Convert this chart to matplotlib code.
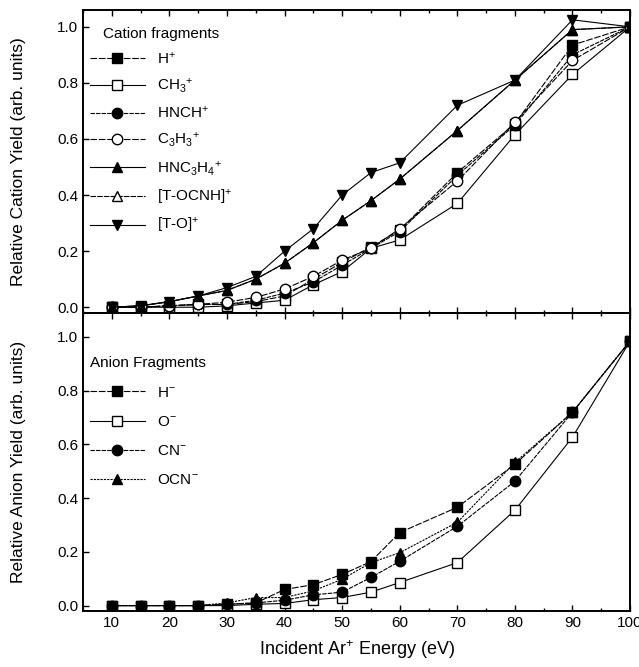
import matplotlib.pyplot as plt
from matplotlib.ticker import MultipleLocator

plt.rcParams['font.family'] = ['Liberation Sans', 'DejaVu Sans']
plt.rcParams['mathtext.fontset'] = 'custom'
plt.rcParams['mathtext.rm'] = 'Liberation Sans'
plt.rcParams['mathtext.it'] = 'Liberation Sans'

energy = [10, 15, 20, 25, 30, 35, 40, 45, 50, 55, 60, 70, 80, 90, 100]

# cation fragments
h_plus = [0.0, 0.0, 0.005, 0.01, 0.01, 0.02, 0.04, 0.10, 0.16, 0.215, 0.275, 0.48, 0.655, 0.935, 1.0]
ch3_plus = [0.0, 0.0, 0.0, 0.0, 0.005, 0.015, 0.025, 0.08, 0.127, 0.21, 0.24, 0.37, 0.615, 0.83, 1.0]
hnch_plus = [0.0, 0.0, 0.005, 0.01, 0.01, 0.025, 0.05, 0.09, 0.15, 0.21, 0.27, 0.47, 0.65, 0.90, 1.0]
c3h3_plus = [0.0, 0.0, 0.005, 0.01, 0.018, 0.035, 0.065, 0.11, 0.168, 0.21, 0.28, 0.45, 0.66, 0.88, 1.0]
hnc3h4_plus = [0.0, 0.005, 0.02, 0.04, 0.06, 0.10, 0.157, 0.23, 0.31, 0.38, 0.457, 0.63, 0.81, 0.99, 1.0]
tocnh_plus = [0.0, 0.005, 0.02, 0.04, 0.06, 0.10, 0.157, 0.23, 0.31, 0.38, 0.457, 0.63, 0.81, 0.99, 1.0]
to_plus = [0.0, 0.005, 0.02, 0.04, 0.07, 0.11, 0.20, 0.28, 0.40, 0.48, 0.515, 0.72, 0.81, 1.025, 1.0]

# anion fragments
h_minus = [0.0, 0.0, 0.0, 0.0, 0.005, 0.01, 0.06, 0.078, 0.116, 0.164, 0.272, 0.366, 0.526, 0.72, 0.985]
o_minus = [0.0, 0.0, 0.0, 0.0, 0.0, 0.005, 0.008, 0.022, 0.03, 0.05, 0.086, 0.16, 0.355, 0.627, 0.985]
cn_minus = [0.0, 0.0, 0.0, 0.0, 0.005, 0.01, 0.02, 0.04, 0.05, 0.105, 0.165, 0.295, 0.463, 0.72, 0.985]
ocn_minus = [0.0, 0.0, 0.0, 0.0, 0.01, 0.03, 0.03, 0.055, 0.098, 0.16, 0.197, 0.31, 0.533, 0.72, 0.985]

fig = plt.figure(figsize=(6.39, 6.67), dpi=100)
ax1 = fig.add_axes([0.130, 0.531, 0.856, 0.454])
ax2 = fig.add_axes([0.130, 0.084, 0.856, 0.447], sharex=ax1)

lw = 0.8
ms = 7.5
# (values, marker, face, label, linestyle, zorder)
cations = [
    (h_plus, 's', 'k', r'H$^{+}$', (0, (6, 1.5)), 3),
    (ch3_plus, 's', 'w', r'CH$_3$$^{+}$', '-', 3),
    (hnch_plus, 'o', 'k', r'HNCH$^{+}$', (0, (4, 1)), 3),
    (c3h3_plus, 'o', 'w', r'C$_3$H$_3$$^{+}$', (0, (6, 1.5)), 3),
    (hnc3h4_plus, '^', 'k', r'HNC$_3$H$_4$$^{+}$', '-', 3),
    (tocnh_plus, '^', 'w', r'[T-OCNH]$^{+}$', (0, (5, 1)), 2),
    (to_plus, 'v', 'k', r'[T-O]$^{+}$', '-', 3),
]
for y, m, fc, lab, ls, z in cations:
    ax1.plot(energy, y, marker=m, mfc=fc, mec='k', mew=1.0, ms=ms,
             color='k', lw=lw, ls=ls, label=lab, zorder=z)

anions = [
    (h_minus, 's', 'k', r'H$^{-}$', (0, (6, 1.5))),
    (o_minus, 's', 'w', r'O$^{-}$', '-'),
    (cn_minus, 'o', 'k', r'CN$^{-}$', (0, (4, 1))),
    (ocn_minus, '^', 'k', r'OCN$^{-}$', (0, (2, 1))),
]
for y, m, fc, lab, ls in anions:
    ax2.plot(energy, y, marker=m, mfc=fc, mec='k', mew=1.0, ms=ms,
             color='k', lw=lw, ls=ls, label=lab)

for ax in (ax1, ax2):
    ax.set_xlim(5, 100)
    ax.xaxis.set_major_locator(MultipleLocator(10))
    ax.xaxis.set_minor_locator(MultipleLocator(5))
    ax.tick_params(which='both', direction='in', top=True, right=False, labelsize=11)
    ax.tick_params(which='major', length=4, width=1)
    ax.tick_params(which='minor', length=2.5, width=1)
    for s in ax.spines.values():
        s.set_linewidth(1.4)
    ax.set_yticks([0.0, 0.2, 0.4, 0.6, 0.8, 1.0])
    ax.set_yticklabels(['0.0', '0.2', '0.4', '0.6', '0.8', '1.0'])

ax1.set_ylim(-0.02, 1.06)
ax2.set_ylim(-0.02, 1.09)
ax1.tick_params(labelbottom=False)
ax2.set_xticks(range(10, 101, 10))

ax1.set_ylabel('Relative Cation Yield (arb. units)', fontsize=12.5)
ax2.set_ylabel('Relative Anion Yield (arb. units)', fontsize=12.5)
ax2.set_xlabel(r'Incident Ar$^{+}$ Energy (eV)', fontsize=13, labelpad=6)
ax1.yaxis.set_label_coords(-0.105, 0.5)
ax2.yaxis.set_label_coords(-0.105, 0.5)

leg1 = ax1.legend(loc='upper left', bbox_to_anchor=(-0.01, 0.985), frameon=False,
                  title='Cation fragments', fontsize=11, title_fontsize=11,
                  handlelength=3.6, labelspacing=0.65, borderaxespad=0.4)
leg1._legend_box.align = 'center'
leg2 = ax2.legend(loc='upper left', bbox_to_anchor=(-0.01, 0.895), frameon=False,
                  title='Anion Fragments', fontsize=11, title_fontsize=11,
                  handlelength=3.6, labelspacing=1.0, borderaxespad=0.4)
leg2._legend_box.align = 'left'

fig.savefig('out.png', dpi=100)
